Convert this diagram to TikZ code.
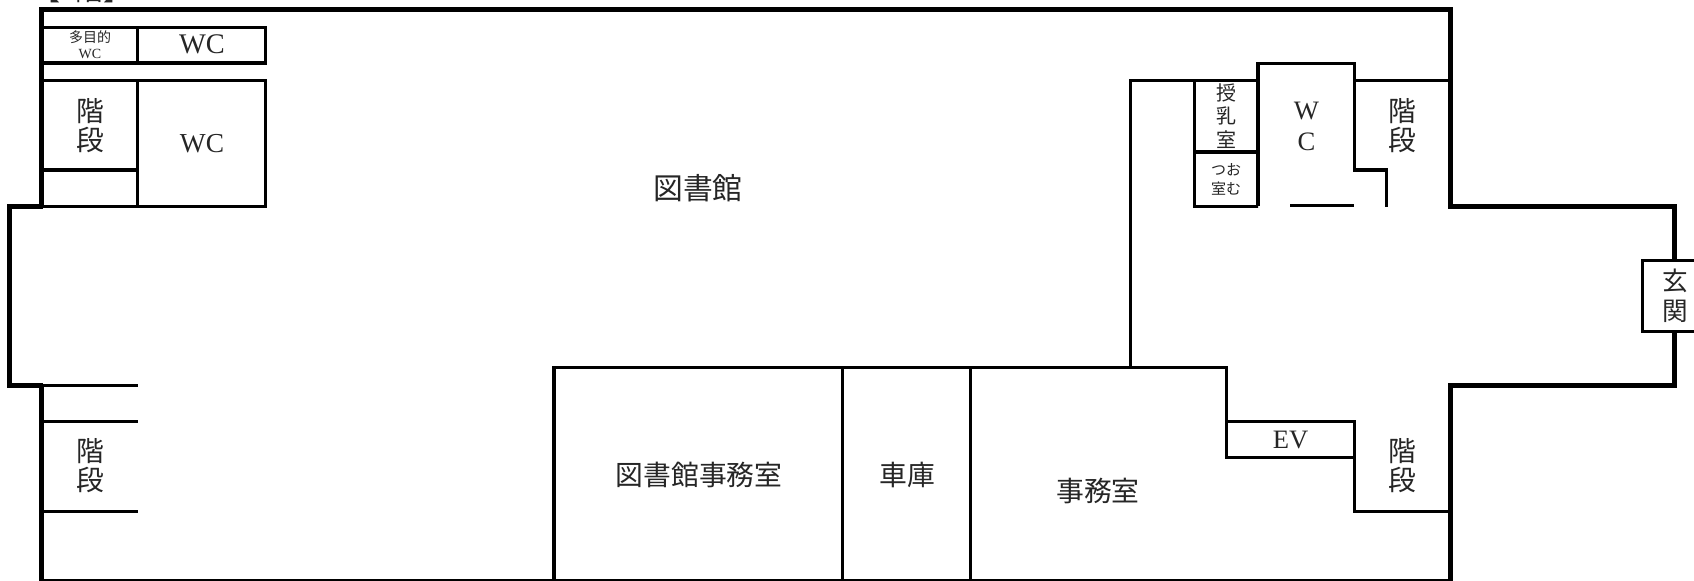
\documentclass[tikz,border=0pt]{standalone}
\usepackage{fontspec}
\setmainfont{Liberation Serif}
\newfontfamily\jp{Noto Sans CJK JP}
\newcommand{\fs}[2]{\fontsize{#1}{#2}\selectfont}
\tikzset{
  thickwall/.style={line width=2.6pt,line cap=butt,line join=miter},
  wall/.style={line width=1.6pt,line cap=butt,line join=miter},
  lbl/.style={inner sep=0pt,align=center,text=black!85},
  big/.style={lbl,font={\jp\fs{13.9}{14.5}}},
}
\begin{document}
\begin{tikzpicture}[x=0.5pt,y=-0.5pt]
\useasboundingbox (0,0) rectangle (1694,581);
\clip (0,0) rectangle (1694,581);
\fill[white] (0,0) rectangle (1694,581);
% title clipped at the top
\node[lbl,font={\jp\fs{14}{14}}] (title) at (82,-10) {【1階】};
% outer walls
\draw[thickwall] (41.5,206.5) |- (1450.7,9.5) |- (1674.3,206.3) -- (1674.3,260);
\draw[thickwall] (43,206.5) -- (9.5,206.5) |- (43,385.3);
\draw[thickwall] (41.5,384) -- (41.5,581);
\draw[thickwall] (1674.3,331) |- (1450.7,385.3) -- (1450.7,581);
\draw[wall] (41.5,581) -- (1450.7,581);
% top-left rooms
\draw[wall] (41.5,27.5) -| (265.5,63) -- (41.5,63);
\draw[wall] (137.5,27.5) -- (137.5,63);
\draw[wall] (41.5,80.5) -| (265.5,206.5) -- (41.5,206.5);
\draw[wall] (137.5,80.5) -- (137.5,206.5);
\draw[wall] (41.5,170) -- (137.5,170);
% lower-left stair
\draw[wall] (41.5,385.3) -- (138,385.3);
\draw[wall] (41.5,421.3) -- (138,421.3);
\draw[wall] (41.5,511.3) -- (138,511.3);
% offices
\draw[wall] (554,581) |- (1226.7,367.3) |- (1354.3,421.3) |- (1450.7,511.3);
\draw[wall] (1226.7,421.3) |- (1354.3,457.3);
\draw[wall] (842.7,367.3) -- (842.7,581);
\draw[wall] (970.7,367.3) -- (970.7,581);
% upper-right rooms
\draw[wall] (1130.5,367.3) |- (1258,80.7);
\draw[wall] (1194.5,80.7) |- (1258,206.5) -- (1194.5,206.5);
\draw[wall] (1194.5,152) -- (1258,152);
\draw[wall] (1258,206.5) |- (1354.3,63.7) |- (1386.7,170) -- (1386.7,206.7);
\draw[wall] (1354.3,80.7) -- (1450.7,80.7);
\draw[wall] (1290,205.7) -- (1354.3,205.7);
% entrance
\draw[wall,fill=white] (1720,260.3) -| (1642.3,331.3) -- (1720,331.3);
% labels
\node[big,font={\jp\fs{14.9}{15}}] (lib) at (698,188) {図書館};
\node[big] (libo) at (699,475) {図書館事務室};
\node[big] (gar) at (907,475) {車庫};
\node[big] (off) at (1098,491) {事務室};
\node[lbl,font={\jp\fs{7}{8}}] (mwc) at (90,44.5) {多目的\\{\rmfamily WC}};
\node[lbl,font=\fs{14.2}{15}] (wc1) at (202,44.5) {WC};
\node[lbl,font=\fs{13.7}{14}] (wc2) at (202,144) {WC};
\node[big] (st1) at (90,125.5) {階\\段};
\node[big] (st2) at (90,466) {階\\段};
\node[big] (st3) at (1402,126) {階\\段};
\node[big] (st4) at (1402,466) {階\\段};
\node[lbl,font={\jp\fs{10}{11.8}}] (jyu) at (1226,116) {授\\乳\\室};
\node[lbl,font={\jp\fs{7.5}{9.5}}] (omu) at (1226,179) {つお\\室む};
\node[lbl,font=\fs{13.3}{15.5}] (wc3) at (1306.5,126.5) {W\\C};
\node[lbl,font=\fs{13.3}{14}] (ev) at (1290.5,440) {EV};
\node[lbl,font={\jp\fs{12.8}{15}}] (gen) at (1675,296) {玄\\関};
\end{tikzpicture}
\end{document}
